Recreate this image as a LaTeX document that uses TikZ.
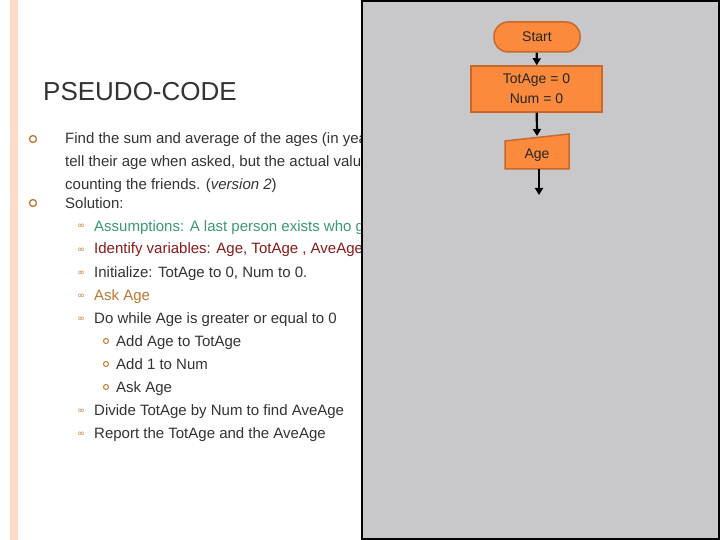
\documentclass[tikz,border=0pt]{standalone}
\usepackage{fontspec}
\setmainfont{Liberation Sans}
\newfontfamily\dv{DejaVu Sans}
\usetikzlibrary{arrows.meta}
\definecolor{txt}{HTML}{333333}
\definecolor{grn}{HTML}{3A9A72}
\definecolor{dred}{HTML}{8B1A1A}
\definecolor{obr}{HTML}{C07830}
\definecolor{pnl}{HTML}{C8C8CA}
\definecolor{org}{HTML}{FB8A3C}
\definecolor{orgd}{HTML}{C8682A}
\tikzset{
  ln/.style={anchor=base west,inner sep=0pt,font=\fontsize{15}{18}\selectfont,text=txt},
  bA/.style={circle,draw=obr,line width=1.3pt,minimum size=7pt,inner sep=0pt},
  bB/.style={anchor=base,inner sep=0pt,text=obr,font=\dv\fontsize{9}{10}\selectfont},
  bC/.style={circle,draw=obr,line width=1pt,minimum size=5pt,inner sep=0pt},
  fc/.style={fill=org,draw=orgd,line width=1.5pt,font=\fontsize{14}{17}\selectfont,text=black!85},
  ar/.style={-{Triangle[length=7pt,width=8pt]},line width=2.2pt}
}
\begin{document}
\begin{tikzpicture}[x=1pt,y=-1pt]
\useasboundingbox (0,0) rectangle (720,540);
\fill[white] (0,0) rectangle (720,540);
\fill[pink!60!orange!40] (10,0) rectangle (18,540);
\node[anchor=base west,inner sep=0pt,font=\fontsize{26}{30}\selectfont,text=txt] (title) at (43,101) {PSEUDO-CODE};
\node[bA] (b1) at (33,139) {};
\node[ln] (l1) at (65,144) {Find the sum and average of the ages (in years) of all friends who};
\node[ln] (l2) at (65,167) {tell their age when asked, but the actual value is not known before};
\node[ln] (l3) at (65,190) {counting the friends. (\textit{version 2})};
\node[bA] (b2) at (33,203) {};
\node[ln] (l4) at (65,208) {Solution:};
\foreach \y/\t/\c [count=\i] in {231/{Assumptions: A last person exists who gives a negative age}/grn,
  254/{Identify variables: Age, TotAge , AveAge, Num}/dred,
  277/{Initialize: TotAge to 0, Num to 0.}/txt,
  300/{Ask Age}/obr,
  323/{Do while Age is greater or equal to 0}/txt,
  415/{Divide TotAge by Num to find AveAge}/txt,
  438/{Report the TotAge and the AveAge}/txt}{
  \node[bB] (s\i) at (81,\y-2) {∞};
  \node[ln,text=\c] (t\i) at (94,\y) {\t};
}
\foreach \y/\t [count=\i] in {346/{Add Age to TotAge},369/{Add 1 to Num},392/{Ask Age}}{
  \node[bC] (c\i) at (106,\y-5) {};
  \node[ln] (u\i) at (116,\y) {\t};
}
\fill[pnl] (361,0) rectangle (720,540);
\draw[black,line width=2pt] (362,1) rectangle (719,539);
\node[fc,rounded corners=14pt,minimum width=86pt,minimum height=30pt] (start) at (537,37) {Start};
\node[fc,minimum width=131pt,minimum height=46pt,align=center,font=\fontsize{14}{20}\selectfont] (init) at (536.5,89) {TotAge = 0\\Num = 0};
\coordinate (inp) at (537,152);
\draw[fc] (505,141) -- (569,134) -- (569,169) -- (505,169) -- cycle;
\node[font=\fontsize{14}{17}\selectfont,text=black!85] (age) at (537,155) {Age};
\coordinate (ageT) at (537,136);
\coordinate (ageB) at (539,169);
\coordinate (end) at (539,195);
\draw[ar] (start) -- (init);
\draw[ar] (init) -- (ageT);
\draw[ar] (ageB) -- (end);
\end{tikzpicture}
\end{document}
